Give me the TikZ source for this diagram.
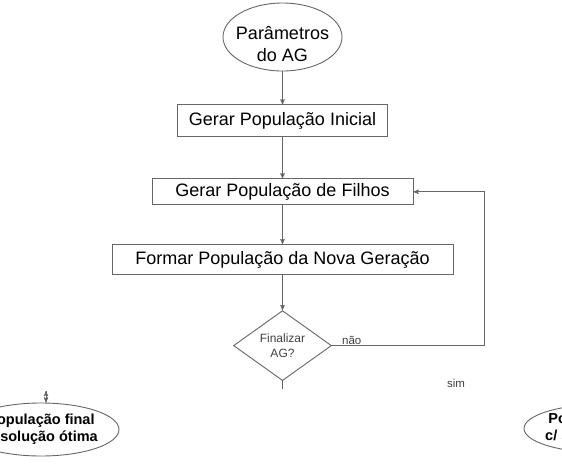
\documentclass[tikz,border=0pt]{standalone}
\usepackage{fontspec}
\setmainfont{Liberation Sans}
\usetikzlibrary{shapes,positioning,arrows}

\begin{document}
\begin{tikzpicture}[x=1pt,y=1pt,
		ovalnode/.style={ellipse, draw=black!60, line width=0.9pt, fill=white, inner sep=0pt, align=center},
		boxnode/.style={rectangle, draw=black!60, line width=0.9pt, fill=white, inner sep=0pt, font=\fontsize{18}{22}\selectfont},
		decnode/.style={diamond, draw=black!60, line width=0.9pt, inner sep=0pt, minimum width=98pt, minimum height=70pt, align=center, text=black!75, font=\fontsize{12}{15}\selectfont},
		endnode/.style={ovalnode, minimum width=156pt, inner xsep=-10pt, font=\fontsize{14.5}{17}\selectfont\bfseries},
		path/.style={draw=black!60, line width=0.9pt, ->, >=stealth', shorten >=0pt},
		lbl/.style={text=black!75, font=\fontsize{11.5}{13}\selectfont, inner sep=1pt}
		]
		\useasboundingbox (0,0) rectangle (562,-464);
		\clip (0,0) rectangle (562,-464);

		% Nodes
		\node[ovalnode, minimum width=119pt, minimum height=68pt, inner xsep=-6pt, font=\fontsize{18}{22}\selectfont] (Params) at (282.5,-37)
			{\raisebox{-9pt}[\height][\depth]{\begin{tabular}{@{}c@{}}Parâmetros\\do AG\end{tabular}}};
		\node[boxnode, minimum width=210pt, minimum height=32pt] (InitPop) [below=33pt of Params] {Gerar População Inicial};
		\node[boxnode, minimum width=261pt, minimum height=26pt] (ChildPop) [below=41pt of InitPop] {Gerar População de Filhos};
		\node[boxnode, minimum width=341pt, minimum height=30pt] (NewGen) [below=39pt of ChildPop] {Formar População da Nova Geração};
		\node[decnode] (Stop) [below=35pt of NewGen] {Finalizar\\AG?};
		\node[endnode, minimum height=53pt] (FinalL) at (41,-429.5) {População final\\c/ solução ótima};
		\node[endnode, minimum height=48pt] (FinalR) at (602,-428.5) {População final\\c/ solução ótima};
		\node[lbl] (Yes) at (456,-383) {sim};
		\coordinate (StopEnd) at ([yshift=-8pt]Stop.south);
		\coordinate (FinalIn) at (46,-391);

		% Main Paths
		\path[path] (Params) edge [] (InitPop);
		\path[path] (InitPop) edge [] (ChildPop);
		\path[path] (ChildPop) edge [] (NewGen);
		\path[path] (NewGen) edge [] (Stop);
		\draw[draw=black!60, line width=0.9pt] (Stop.south) -- (StopEnd);
		\path[path] (FinalIn) edge [] (FinalIn |- FinalL.north);

		% Loop back
		\path[path] (Stop.east) -- node [lbl, pos=0.13, above] {não} ++(152pt,0) |- (ChildPop.east);
	\end{tikzpicture}
\end{document}
